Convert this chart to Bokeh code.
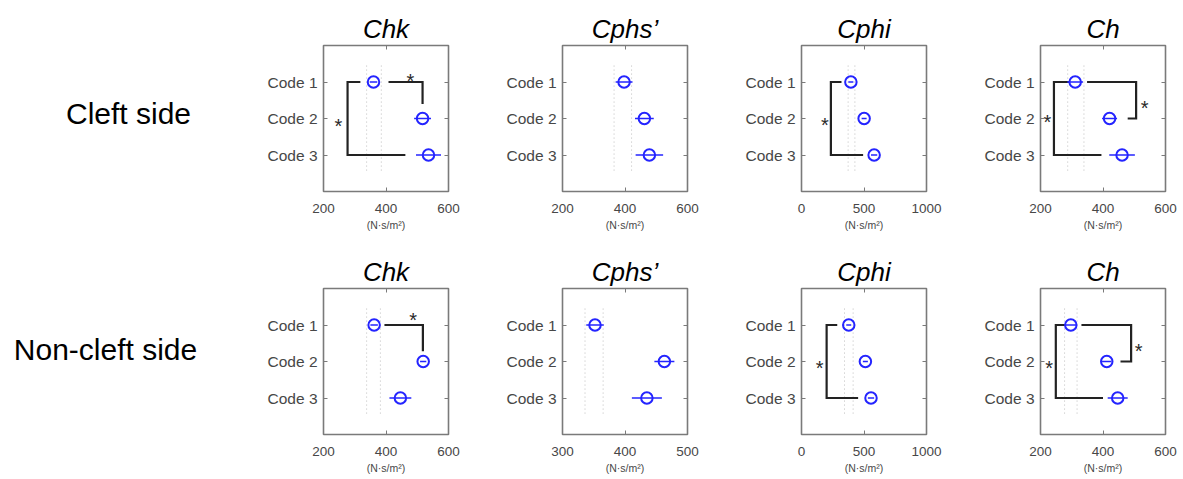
from bokeh.plotting import figure
from bokeh.layouts import row, column
from bokeh.models import Range1d, FixedTicker, LinearAxis
from bokeh.embed import file_html
from bokeh.resources import INLINE
from bokeh.core.properties import value

# ---------------- data ----------------
codes = ["Code 1", "Code 2", "Code 3"]
code_pos = [1, 2, 3]
titles = ["Chk", "Cphs\u2019", "Cphi", "Ch"]
row_names = ["Cleft side", "Non-cleft side"]
unit_label = "(N\u00b7s/m\u00b2)"

# x ranges and ticks per panel (row 1 then row 2)
cleft_xranges = [(200, 600), (200, 600), (0, 1000), (200, 600)]
cleft_xticks = [[200, 400, 600], [200, 400, 600], [0, 500, 1000], [200, 400, 600]]
non_xranges = [(200, 600), (300, 500), (0, 1000), (200, 600)]
non_xticks = [[200, 400, 600], [300, 400, 500], [0, 500, 1000], [200, 400, 600]]

# means and half-widths of the error bars (N·s/m²)
chk_cleft_mean = [360, 517, 536]
chk_cleft_err = [12, 27, 40]
cphs_cleft_mean = [397, 462, 478]
cphs_cleft_err = [27, 30, 44]
cphi_cleft_mean = [395, 501, 581]
cphi_cleft_err = [20, 20, 25]
ch_cleft_mean = [311, 421, 461]
ch_cleft_err = [25, 24, 41]

chk_non_mean = [362, 519, 446]
chk_non_err = [12, 10, 35]
cphs_non_mean = [352, 463, 435]
cphs_non_err = [14, 16, 24]
cphi_non_mean = [378, 511, 556]
cphi_non_err = [20, 20, 25]
ch_non_mean = [297, 412, 447]
ch_non_err = [19, 15, 32]

# dotted reference lines
chk_cleft_ref = [338, 385]
cphs_cleft_ref = [365, 421]
cphi_cleft_ref = [373, 427]
ch_cleft_ref = [287, 339]
chk_non_ref = [338, 382]
cphs_non_ref = [336, 365]
cphi_non_ref = [344, 413]
ch_non_ref = [277, 317]

# significance brackets: (y_from, y_to, x_vertical, x_end_at_from, x_end_at_to or None)
chk_cleft_br = [(1, 1.6, 517, 408, None), (1, 3, 277, 318, 462)]
chk_cleft_star_x = [478, 248]
chk_cleft_star_y = [0.8, 2.05]
cphs_cleft_br = []
cphs_cleft_star_x = []
cphs_cleft_star_y = []
cphi_cleft_br = [(1, 3, 235, 320, 493)]
cphi_cleft_star_x = [187]
cphi_cleft_star_y = [2.0]
ch_cleft_br = [(1, 2, 506, 349, 479), (1, 3, 243, 292, 395)]
ch_cleft_star_x = [533, 222]
ch_cleft_star_y = [1.56, 1.94]

chk_non_br = [(1, 1.72, 518, 395, None)]
chk_non_star_x = [487]
chk_non_star_y = [0.71]
cphs_non_br = []
cphs_non_star_x = []
cphs_non_star_y = []
cphi_non_br = [(1, 3, 201, 286, 453)]
cphi_non_star_x = [146]
cphi_non_star_y = [2.0]
ch_non_br = [(1, 2, 490, 331, 456), (1, 3, 249, 279, 400)]
ch_non_star_x = [514, 228]
ch_non_star_y = [1.54, 2.0]

# ---------------- styling / layout constants ----------------
FONT = "Liberation Sans"
WIN_W, WIN_H = 1183, 479
FRAME_W, FRAME_H = 125, 146
LEFT_W = 243
BORDER_L, BORDER_R, LAST_R = 80, 34, 18
TOP = 45
B1 = 52
GRAY = "#7a7a7a"
TXT = "#474747"
BLUE = "#2424ff"


def make_panel(title, xr, xt, mean, err, ref, brs, sx, sy, bottom, right):
    p = figure(frame_width=FRAME_W, frame_height=FRAME_H,
               x_range=Range1d(*xr), y_range=Range1d(4, 0),
               output_backend="svg", toolbar_location=None,
               min_border_left=BORDER_L, min_border_right=right,
               min_border_top=TOP, min_border_bottom=bottom,
               background_fill_color="white", border_fill_color="white")
    p.title.text = title
    p.title.align = "center"
    p.title.vertical_align = "top"
    p.title.text_font = FONT
    p.title.text_font_size = "26px"
    p.title.text_font_style = "italic"
    p.title.text_color = "black"
    p.title.standoff = 0
    p.grid.visible = False
    p.outline_line_color = GRAY
    p.outline_line_width = 1.6

    p.xaxis.ticker = FixedTicker(ticks=xt)
    p.yaxis.ticker = FixedTicker(ticks=code_pos)
    p.yaxis.major_label_overrides = {c: n for c, n in zip(code_pos, codes)}
    for ax in (p.xaxis[0], p.yaxis[0]):
        ax.axis_line_color = None
        ax.major_tick_in = 4
        ax.major_tick_out = 0
        ax.minor_tick_line_color = None
        ax.major_tick_line_color = GRAY
        ax.major_label_text_font = FONT
        ax.major_label_text_color = TXT
    p.yaxis.major_label_text_font_size = "15.5px"
    p.yaxis.major_label_standoff = 6
    p.xaxis.major_label_text_font_size = "13.5px"
    p.xaxis.major_label_standoff = 12
    p.xaxis.axis_label = unit_label
    p.xaxis.axis_label_text_font = FONT
    p.xaxis.axis_label_text_font_size = "10.5px"
    p.xaxis.axis_label_text_font_style = "normal"
    p.xaxis.axis_label_text_color = TXT
    p.xaxis.axis_label_standoff = 3

    top_ax = LinearAxis(ticker=FixedTicker(ticks=xt))
    top_ax.major_label_overrides = {t: "" for t in xt}
    right_ax = LinearAxis(ticker=FixedTicker(ticks=code_pos))
    right_ax.major_label_overrides = {t: "" for t in code_pos}
    for ax in (top_ax, right_ax):
        ax.axis_line_color = None
        ax.major_tick_in = 4
        ax.major_tick_out = 0
        ax.minor_tick_line_color = None
        ax.major_tick_line_color = GRAY
        ax.major_label_standoff = 0
    p.add_layout(top_ax, "above")
    p.add_layout(right_ax, "right")

    # dotted reference lines
    p.segment(x0=ref, y0=[0.55] * len(ref), x1=ref, y1=[3.5] * len(ref),
              line_color="#bdbdbd", line_width=1, line_dash="1 3")

    # significance brackets
    if brs:
        xs, ys = [], []
        for ya, yb, xv, xa, xb in brs:
            if xb is None:
                xs.append([xa, xv, xv])
                ys.append([ya, ya, yb])
            else:
                xs.append([xa, xv, xv, xb])
                ys.append([ya, ya, yb, yb])
        p.multi_line(xs=xs, ys=ys, line_color="#222222", line_width=2.2,
                     line_join="miter")
        p.text(x=sx, y=sy, text=["*"] * len(sx), text_font=value(FONT),
               text_font_size="20px", text_color="#2a2a2a",
               text_align="center", text_baseline="middle", y_offset=6)

    # error bars and means
    lo = [m - e for m, e in zip(mean, err)]
    hi = [m + e for m, e in zip(mean, err)]
    p.segment(x0=lo, y0=code_pos, x1=hi, y1=code_pos, line_color=BLUE,
              line_width=1.6)
    p.scatter(x=mean, y=code_pos, marker="circle", size=11.5, fill_color=None,
              line_color=BLUE, line_width=2)
    return p


def make_label(text, h, cx, cy):
    f = figure(width=LEFT_W, height=h, x_range=Range1d(0, LEFT_W),
               y_range=Range1d(h, 0), output_backend="svg",
               toolbar_location=None, min_border=0)
    f.axis.visible = False
    f.grid.visible = False
    f.outline_line_color = None
    f.text(x=[cx], y=[cy], text=[text], text_font=value(FONT),
           text_font_size="30px", text_color="black", text_align="center",
           text_baseline="middle")
    return f


H1 = TOP + FRAME_H + B1
H2 = WIN_H - H1
B2 = H2 - TOP - FRAME_H

cleft_sets = [
    (chk_cleft_mean, chk_cleft_err, chk_cleft_ref, chk_cleft_br, chk_cleft_star_x, chk_cleft_star_y),
    (cphs_cleft_mean, cphs_cleft_err, cphs_cleft_ref, cphs_cleft_br, cphs_cleft_star_x, cphs_cleft_star_y),
    (cphi_cleft_mean, cphi_cleft_err, cphi_cleft_ref, cphi_cleft_br, cphi_cleft_star_x, cphi_cleft_star_y),
    (ch_cleft_mean, ch_cleft_err, ch_cleft_ref, ch_cleft_br, ch_cleft_star_x, ch_cleft_star_y),
]
non_sets = [
    (chk_non_mean, chk_non_err, chk_non_ref, chk_non_br, chk_non_star_x, chk_non_star_y),
    (cphs_non_mean, cphs_non_err, cphs_non_ref, cphs_non_br, cphs_non_star_x, cphs_non_star_y),
    (cphi_non_mean, cphi_non_err, cphi_non_ref, cphi_non_br, cphi_non_star_x, cphi_non_star_y),
    (ch_non_mean, ch_non_err, ch_non_ref, ch_non_br, ch_non_star_x, ch_non_star_y),
]

row1 = [make_label(row_names[0], H1, 128, 114)]
for i, (m, e, r, b, sx, sy) in enumerate(cleft_sets):
    rb = BORDER_R if i < 3 else LAST_R
    row1.append(make_panel(titles[i], cleft_xranges[i], cleft_xticks[i],
                           m, e, r, b, sx, sy, B1, rb))

row2 = [make_label(row_names[1], H2, 105, 342 - H1)]
for i, (m, e, r, b, sx, sy) in enumerate(non_sets):
    rb = BORDER_R if i < 3 else LAST_R
    row2.append(make_panel(titles[i], non_xranges[i], non_xticks[i],
                           m, e, r, b, sx, sy, B2, rb))

layout = column(row(*row1, spacing=0), row(*row2, spacing=0), spacing=0)
open("out.html", "w").write(file_html(layout, INLINE))
